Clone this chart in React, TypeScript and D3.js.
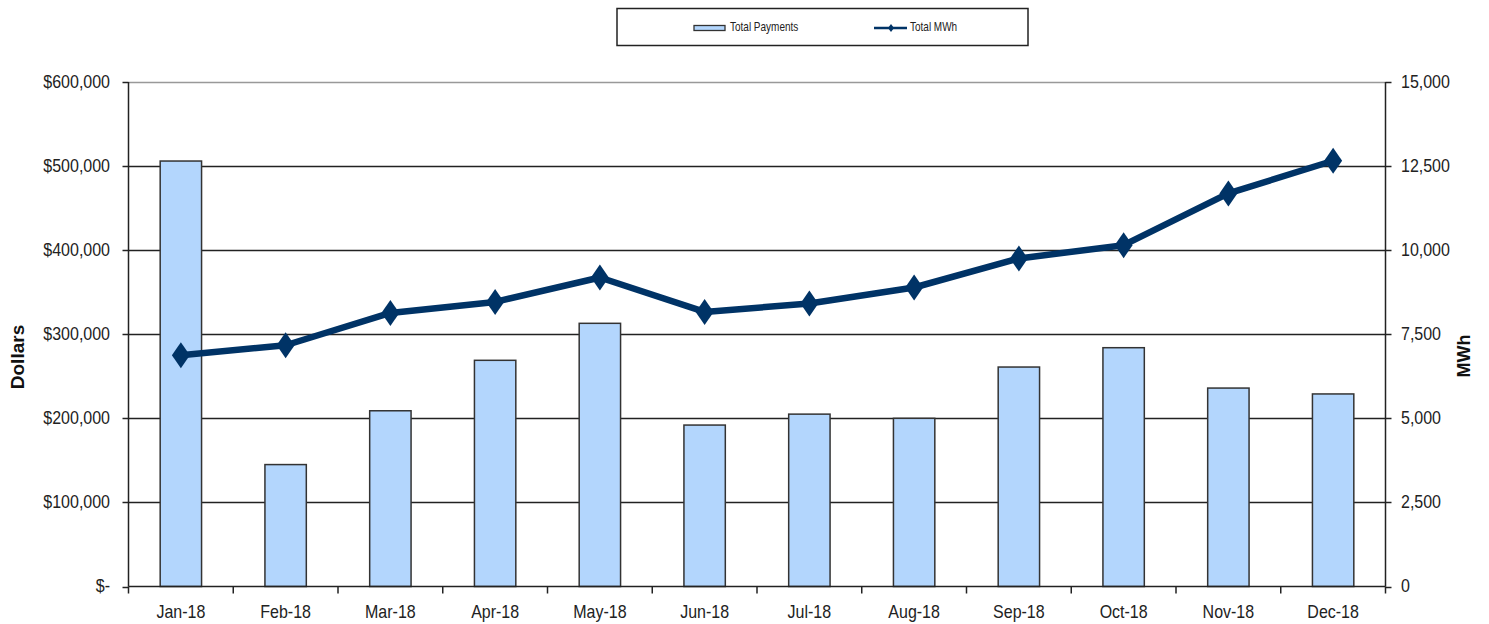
import { useEffect, useRef } from 'react';
import * as d3 from 'd3';

const months = ['Jan-18', 'Feb-18', 'Mar-18', 'Apr-18', 'May-18', 'Jun-18', 'Jul-18', 'Aug-18', 'Sep-18', 'Oct-18', 'Nov-18', 'Dec-18'];
const payments = [506000, 145000, 209000, 269000, 313000, 192000, 205000, 200000, 261000, 284000, 236000, 229000];
const mwh = [6875, 7173, 8134, 8461, 9187, 8164, 8414, 8890, 9753, 10149, 11687, 12658];
const dollarTicks = [0, 100000, 200000, 300000, 400000, 500000, 600000];
const mwhTicks = [0, 2500, 5000, 7500, 10000, 12500, 15000];

const W = 1489;
const H = 624;
const FONT = 'Arial, "Liberation Sans", sans-serif';
const BAR_FILL = '#b3d6fd';
const LINE_COLOR = '#003366';

export default function App() {
  const svgRef = useRef<SVGSVGElement | null>(null);

  useEffect(() => {
    if (!svgRef.current) return;
    const svg = d3.select(svgRef.current);
    svg.selectAll('*').remove();

    const left = 128.5;
    const right = 1385.5;
    const top = 82;
    const bottom = 586.5;

    const x = d3.scaleBand<string>().domain(months).range([left, right]).padding(0);
    const yL = d3.scaleLinear().domain([0, 600000]).range([bottom, top]);
    const yR = d3.scaleLinear().domain([0, 15000]).range([bottom, top]);
    const barW = x.bandwidth() * 0.395;

    // stretched text helper (source fonts look tall and narrow)
    const label = (g: d3.Selection<SVGGElement, unknown, null, undefined>, tx: number, ty: number, text: string, anchor: string, size = 16) => {
      g.append('text')
        .attr('transform', `translate(${tx},${ty}) scale(1,1.2)`)
        .attr('text-anchor', anchor)
        .style('font-family', FONT)
        .style('font-size', `${size}px`)
        .style('fill', '#222')
        .text(text);
    };

    // gridlines
    svg
      .append('g')
      .selectAll('line')
      .data(dollarTicks.slice(1))
      .join('line')
      .attr('x1', left)
      .attr('x2', right)
      .attr('y1', (d) => Math.round(yL(d)) + 0.5)
      .attr('y2', (d) => Math.round(yL(d)) + 0.5)
      .attr('stroke', (d) => (d === 600000 ? '#999' : '#222'))
      .attr('stroke-width', 1.3);

    // bars
    svg
      .append('g')
      .selectAll('rect')
      .data(payments)
      .join('rect')
      .attr('x', (_, i) => x(months[i])! + x.bandwidth() / 2 - barW / 2)
      .attr('y', (d) => yL(d))
      .attr('width', barW)
      .attr('height', (d) => bottom - yL(d))
      .attr('fill', BAR_FILL)
      .attr('stroke', '#333')
      .attr('stroke-width', 1.5);

    // axes lines
    const axes = svg.append('g').attr('stroke', '#222').attr('stroke-width', 1.5);
    axes.append('line').attr('x1', left).attr('x2', left).attr('y1', top).attr('y2', bottom);
    axes.append('line').attr('x1', right).attr('x2', right).attr('y1', top).attr('y2', bottom);
    axes.append('line').attr('x1', left).attr('x2', right).attr('y1', bottom).attr('y2', bottom);

    // left ticks
    axes
      .append('g')
      .selectAll('line')
      .data(dollarTicks)
      .join('line')
      .attr('x1', left - 6)
      .attr('x2', left)
      .attr('y1', (d) => Math.round(yL(d)) + 0.5)
      .attr('y2', (d) => Math.round(yL(d)) + 0.5);
    // right ticks
    axes
      .append('g')
      .selectAll('line')
      .data(mwhTicks)
      .join('line')
      .attr('x1', right)
      .attr('x2', right + 6)
      .attr('y1', (d) => Math.round(yR(d)) + 0.5)
      .attr('y2', (d) => Math.round(yR(d)) + 0.5);
    // category ticks
    const bounds = months.map((m) => x(m)!).concat([right]);
    axes
      .append('g')
      .selectAll('line')
      .data(bounds)
      .join('line')
      .attr('x1', (d) => d)
      .attr('x2', (d) => d)
      .attr('y1', bottom)
      .attr('y2', bottom + 7);

    const labels = svg.append('g') as d3.Selection<SVGGElement, unknown, null, undefined>;
    const fmtL = (d: number) => (d === 0 ? '$-' : '$' + d3.format(',')(d));
    dollarTicks.forEach((d) => label(labels, 110, yL(d) + 5.5, fmtL(d), 'end'));
    mwhTicks.forEach((d) => label(labels, 1401, yR(d) + 5.5, d3.format(',')(d), 'start'));
    months.forEach((m) => label(labels, x(m)! + x.bandwidth() / 2, 618, m, 'middle'));

    // axis titles
    svg
      .append('text')
      .attr('transform', `translate(24,357) rotate(-90)`)
      .attr('text-anchor', 'middle')
      .style('font-family', FONT)
      .style('font-size', '19px')
      .style('font-weight', 'bold')
      .style('fill', '#111')
      .text('Dollars');
    svg
      .append('text')
      .attr('transform', `translate(1470,356) rotate(-90)`)
      .attr('text-anchor', 'middle')
      .style('font-family', FONT)
      .style('font-size', '18px')
      .style('font-weight', 'bold')
      .style('fill', '#111')
      .text('MWh');

    // line
    const cx = (i: number) => x(months[i])! + x.bandwidth() / 2;
    const line = d3
      .line<number>()
      .x((_, i) => cx(i))
      .y((d) => yR(d));
    svg
      .append('path')
      .datum(mwh)
      .attr('d', line)
      .attr('fill', 'none')
      .attr('stroke', LINE_COLOR)
      .attr('stroke-width', 6.5)
      .attr('stroke-linejoin', 'round');

    const diamond = (px: number, py: number, w: number, h: number) =>
      `M${px},${py - h}L${px + w},${py}L${px},${py + h}L${px - w},${py}Z`;
    svg
      .append('g')
      .selectAll('path')
      .data(mwh)
      .join('path')
      .attr('d', (d, i) => diamond(cx(i), yR(d), 9, 13))
      .attr('fill', LINE_COLOR);

    // legend
    const lg = svg.append('g') as d3.Selection<SVGGElement, unknown, null, undefined>;
    lg.append('rect')
      .attr('x', 617)
      .attr('y', 8.5)
      .attr('width', 411)
      .attr('height', 37)
      .attr('fill', '#fff')
      .attr('stroke', '#222')
      .attr('stroke-width', 1.5);
    lg.append('rect')
      .attr('x', 694)
      .attr('y', 25.5)
      .attr('width', 31)
      .attr('height', 5)
      .attr('fill', BAR_FILL)
      .attr('stroke', '#333')
      .attr('stroke-width', 1.3);
    label(lg, 730, 31, 'Total Payments', 'start', 10);
    lg.append('line')
      .attr('x1', 874)
      .attr('x2', 907)
      .attr('y1', 28)
      .attr('y2', 28)
      .attr('stroke', LINE_COLOR)
      .attr('stroke-width', 2.5);
    lg.append('path').attr('d', diamond(891, 28, 3, 4)).attr('fill', LINE_COLOR);
    label(lg, 910, 31, 'Total MWh', 'start', 10);
  }, []);

  return (
    <div style={{ position: 'absolute', left: 0, top: 0, background: '#fff' }}>
      <svg ref={svgRef} width={W} height={H} style={{ display: 'block' }} />
    </div>
  );
}
